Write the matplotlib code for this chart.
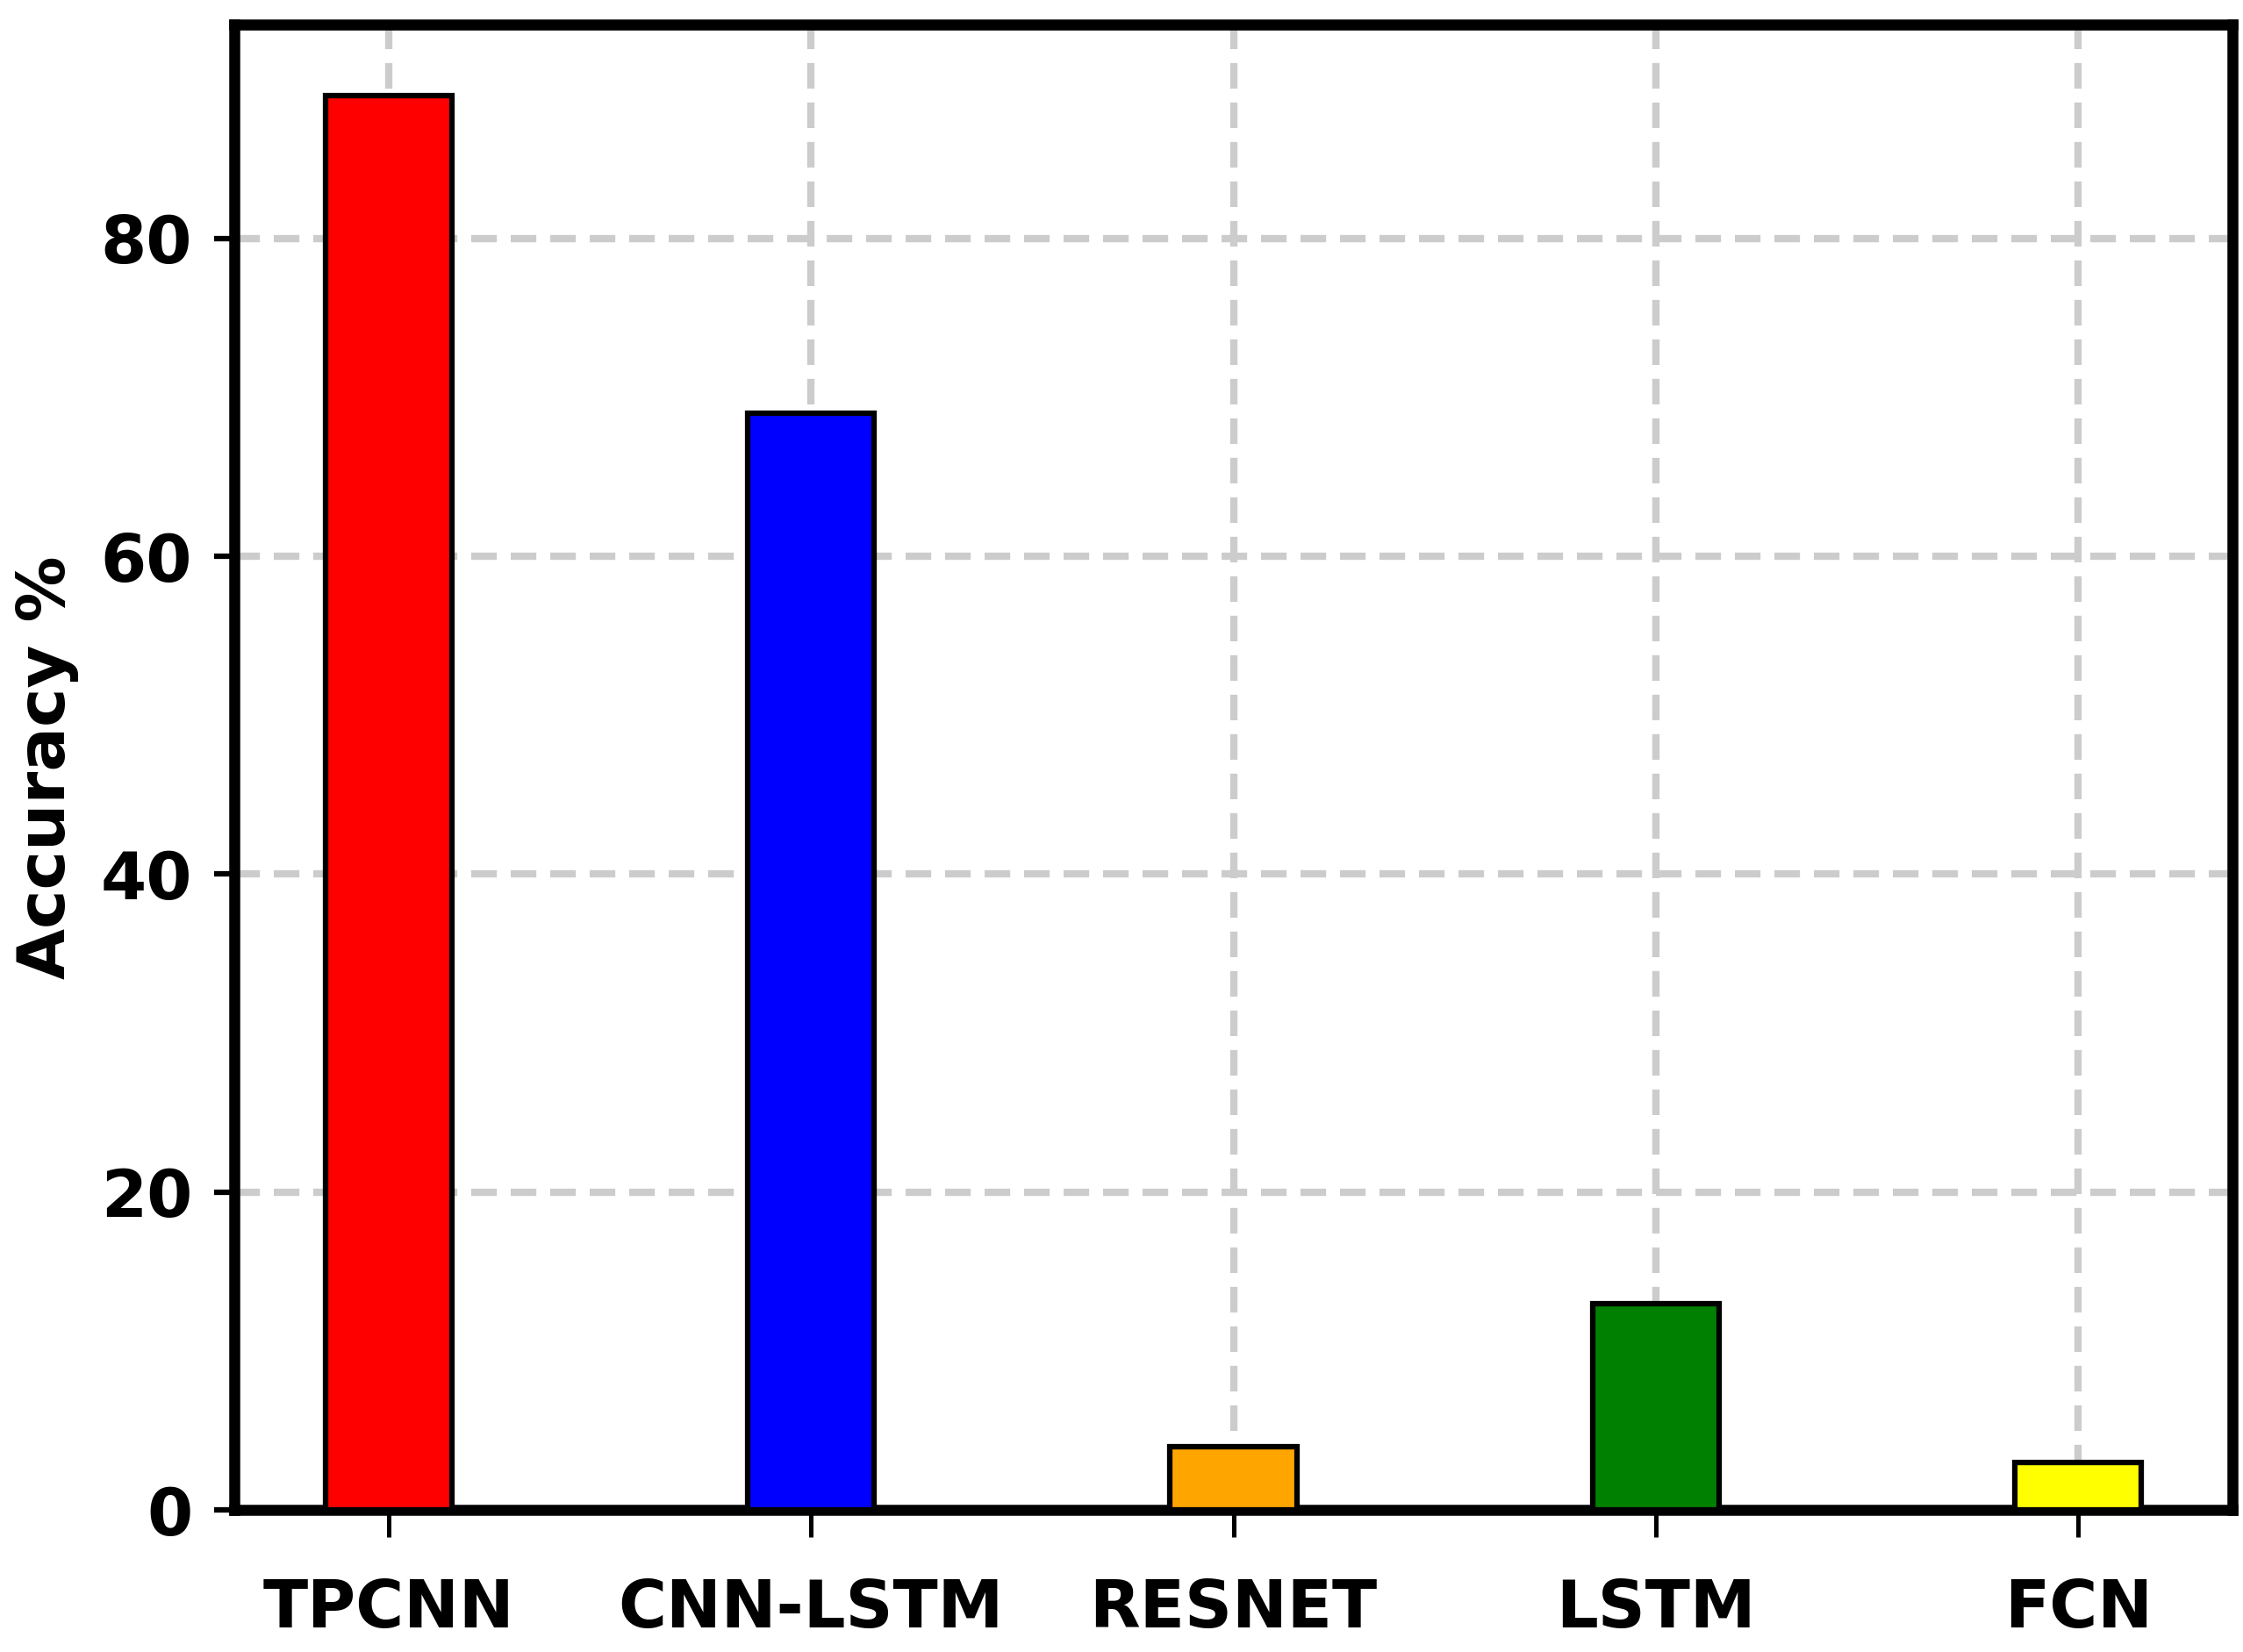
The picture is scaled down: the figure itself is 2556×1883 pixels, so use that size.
import numpy as np
import matplotlib
matplotlib.use("Agg")
import matplotlib.pyplot as plt

models = ['TPCNN', 'CNN-LSTM', 'RESNET', 'LSTM', 'FCN']
accuracy = [89, 69, 4, 13, 3]
colors = ['red', 'blue', 'orange', 'green', 'yellow']

plt.rcParams['font.family'] = 'DejaVu Sans'
plt.rcParams['font.weight'] = 'bold'

fig = plt.figure(figsize=(8.52, 6.2767), dpi=300)
ax = fig.add_axes([0.1045, 0.086, 0.8908, 0.8991])

x = np.arange(len(models))
ax.bar(x, accuracy, width=0.3, color=colors, edgecolor='black', linewidth=1.5, zorder=3)

ax.set_axisbelow(True)
ax.grid(True, color='#cccccc', linestyle=(0, (3.5, 1.9)), linewidth=2)

ax.set_xticks(x)
ax.set_xticklabels(models, fontsize=18, fontweight='bold')
ax.set_ylabel('Accuracy %', fontsize=18, fontweight='bold', labelpad=6)
ax.set_yticks([0, 20, 40, 60, 80])
for lab in ax.get_yticklabels():
    lab.set_fontsize(18)
    lab.set_fontweight('bold')

ax.tick_params(axis='x', length=7.5, width=1.2, pad=11)
ax.tick_params(axis='y', length=5.5, width=1.5, pad=6)

for s in ax.spines.values():
    s.set_linewidth(3)

fig.savefig('out.png', dpi=300)
